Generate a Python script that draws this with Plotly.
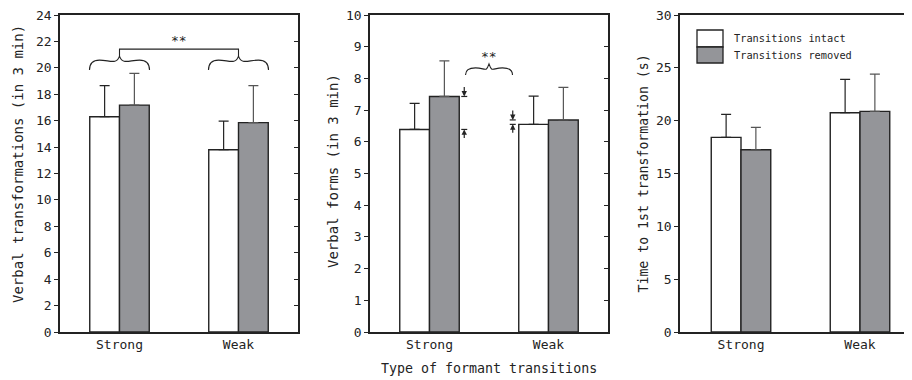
import plotly.graph_objects as go

# ---------------- data ----------------
categories = ["Strong", "Weak"]
series_names = ["Transitions intact", "Transitions removed"]

vt_intact = [16.3, 13.8]
vt_intact_err = [2.35, 2.17]
vt_removed = [17.18, 15.85]
vt_removed_err = [2.4, 2.8]

vf_intact = [6.39, 6.55]
vf_intact_err = [0.82, 0.89]
vf_removed = [7.43, 6.69]
vf_removed_err = [1.12, 1.03]

tt_intact = [18.42, 20.75]
tt_intact_err = [2.18, 3.15]
tt_removed = [17.25, 20.88]
tt_removed_err = [2.12, 3.53]

y_titles = ["Verbal transformations (in 3 min)", "Verbal forms (in 3 min)",
            "Time to 1st transformation (s)"]
y_max = [24, 10, 30]
y_dtick = [2, 1, 5]
x_title = "Type of formant transitions"
sig_text = "**"

# ---------------- layout constants ----------------
# The page body has an 8px margin, so the figure is drawn 8px smaller and
# all reference-pixel positions are shifted by that offset.
OFF = 8
PW, PH = 912, 380
W, H = PW - OFF, PH - OFF
FONT = "DejaVu Sans Mono"
INK = "#232323"
GREY = "#949599"


def FX(px):
    return (px - OFF) / W


def FY(py):
    return 1 - (py - OFF) / H


top_px, bot_px = 15, 332
ydom = [FY(bot_px), FY(top_px)]
xdoms_px = [(60, 298), (370, 608), (680, 912)]
xranges = [[-0.5, 1.5], [-0.5, 1.5], [-61 / 119, (912 - 741) / 119]]
PX_X = 119.0  # px per category unit

fig = go.Figure()
panels = [
    (vt_intact, vt_intact_err, vt_removed, vt_removed_err),
    (vf_intact, vf_intact_err, vf_removed, vf_removed_err),
    (tt_intact, tt_intact_err, tt_removed, tt_removed_err),
]

for i, (a, ae, b, be) in enumerate(panels):
    xa = "x" if i == 0 else f"x{i+1}"
    ya = "y" if i == 0 else f"y{i+1}"
    fig.add_trace(go.Bar(
        x=categories, y=a, name=series_names[0], xaxis=xa, yaxis=ya,
        marker=dict(color="white", line=dict(color=INK, width=1.4)),
        error_y=dict(type="data", array=ae, arrayminus=[0, 0], symmetric=False,
                     color=INK, thickness=1.2, width=5),
        showlegend=False))
    fig.add_trace(go.Bar(
        x=categories, y=b, name=series_names[1], xaxis=xa, yaxis=ya,
        marker=dict(color=GREY, line=dict(color=INK, width=1.4)),
        error_y=dict(type="data", array=be, arrayminus=[0, 0], symmetric=False,
                     color="#555555", thickness=1.2, width=5),
        showlegend=False))

layout = dict(
    template="none",
    width=W, height=H, margin=dict(l=0, r=0, t=0, b=0, autoexpand=False),
    paper_bgcolor="white", plot_bgcolor="white",
    barmode="group", bargap=0.5, bargroupgap=0,
    font=dict(family=FONT, size=13, color=INK),
    showlegend=False,
)

for i in range(3):
    sx = "" if i == 0 else str(i + 1)
    x0, x1 = xdoms_px[i]
    layout[f"xaxis{sx}"] = dict(
        domain=[FX(x0), min(FX(x1), 1.0)], range=xranges[i], anchor=f"y{sx}",
        showline=True, linecolor=INK, linewidth=1.5, mirror=True,
        ticks="", showgrid=False, zeroline=False, type="category", automargin=False,
        ticklabeloverflow="allow",
        tickfont=dict(size=13, family=FONT, color=INK),
    )
    layout[f"yaxis{sx}"] = dict(
        domain=ydom, range=[0, y_max[i]], anchor=f"x{sx}",
        showline=True, linecolor=INK, linewidth=1.5, mirror=(i < 2),
        ticks="outside", ticklen=4, tickwidth=1.2, tickcolor=INK,
        dtick=y_dtick[i], showgrid=False, zeroline=False, automargin=False,
        ticklabeloverflow="allow",
        tickfont=dict(size=13, family=FONT, color=INK),
    )

# right-side inside ticks for panels 1 and 2
for i, num in [(0, 4), (1, 5)]:
    sx = "" if i == 0 else str(i + 1)
    layout[f"yaxis{num}"] = dict(
        overlaying=f"y{sx}", side="right", anchor=f"x{sx}",
        range=[0, y_max[i]], dtick=y_dtick[i], ticks="inside", ticklen=4,
        tickwidth=1.2, tickcolor=INK, showticklabels=False, showline=False,
        showgrid=False, zeroline=False, automargin=False,
    )
    fig.add_trace(go.Scatter(x=[], y=[], xaxis=f"x{sx}", yaxis=f"y{num}",
                             showlegend=False))

fig.update_layout(**layout)

# x axis title (centered under panel 2)
fig.add_annotation(text=x_title, x=FX(489), y=FY(368), xref="paper", yref="paper",
                   showarrow=False, xanchor="center", yanchor="middle",
                   font=dict(size=13.3, family=FONT, color=INK))

# axis titles (y) as rotated annotations
ytitle_px = [(18, 164, 14), (333, 171, 14), (643, 173.5, 13.2)]
for t, (px, py, fs) in zip(y_titles, ytitle_px):
    fig.add_annotation(text=t, x=FX(px), y=FY(py), xref="paper", yref="paper",
                       showarrow=False, textangle=-90, xanchor="center", yanchor="middle",
                       font=dict(size=fs, family=FONT, color=INK))

# ---------------- significance braces ----------------
def brace_path(c, half_w_px, yb, ppy, hump_px, cusp_px):
    """Over-brace centered at c (category units), tips at yb (data units)."""
    def X(px):
        return c + px / PX_X
    def Y(px):
        return yb + px / ppy
    w = half_w_px
    p = []
    p.append(f"M {X(-w)},{Y(0)}")
    p.append(f"Q {X(-w)},{Y(hump_px)} {X(-w + 10)},{Y(hump_px)}")
    p.append(f"C {X(-w + 20)},{Y(hump_px)} {X(-3)},{Y(hump_px - 5)} {X(0)},{Y(cusp_px)}")
    p.append(f"C {X(3)},{Y(hump_px - 5)} {X(w - 20)},{Y(hump_px)} {X(w - 10)},{Y(hump_px)}")
    p.append(f"Q {X(w)},{Y(hump_px)} {X(w)},{Y(0)}")
    return " ".join(p)

# panel 1: braces over each group, joined by a bracket
ppy1 = (bot_px - top_px) / y_max[0]
brace_base1 = 19.83
cusp1 = brace_base1 + 14 / ppy1
bracket1 = brace_base1 + 21 / ppy1
for k in range(len(categories)):
    fig.add_shape(type="path", path=brace_path(k, 30, brace_base1, ppy1, 10, 14),
                  xref="x", yref="y", line=dict(color=INK, width=1.1))
fig.add_shape(type="path",
              path=f"M 0,{cusp1} L 0,{bracket1} L 1,{bracket1} L 1,{cusp1}",
              xref="x", yref="y", line=dict(color=INK, width=1.1))
fig.add_annotation(text=sig_text, x=0.5, y=bracket1 + 9 / ppy1, xref="x", yref="y",
                   showarrow=False, font=dict(size=13, family=FONT, color=INK))

# panel 2: single brace between groups plus difference arrows
ppy2 = (bot_px - top_px) / y_max[1]
brace_base2 = 8.11
fig.add_shape(type="path", path=brace_path(0.5, 23.5, brace_base2, ppy2, 7, 11),
              xref="x2", yref="y2", line=dict(color=INK, width=1.1))
fig.add_annotation(text=sig_text, x=0.5, y=brace_base2 + 18 / ppy2, xref="x2", yref="y2",
                   showarrow=False, font=dict(size=13, family=FONT, color=INK))

arrow_x = [0.25 + 5 / PX_X, 0.75 - 6 / PX_X]
for k in range(len(categories)):
    lo = min(vf_intact[k], vf_removed[k])
    hi = max(vf_intact[k], vf_removed[k])
    ax = arrow_x[k]
    for lev in (lo, hi):
        fig.add_shape(type="line", x0=ax - 3 / PX_X, x1=ax + 3 / PX_X, y0=lev, y1=lev,
                      xref="x2", yref="y2", line=dict(color=INK, width=1.2))
    fig.add_annotation(x=ax, y=hi, xref="x2", yref="y2", ax=0, ay=-11, text="",
                       showarrow=True, arrowhead=2, arrowsize=0.9, arrowwidth=1.2,
                       arrowcolor=INK, standoff=0)
    fig.add_annotation(x=ax, y=lo, xref="x2", yref="y2", ax=0, ay=10, text="",
                       showarrow=True, arrowhead=2, arrowsize=0.9, arrowwidth=1.2,
                       arrowcolor=INK, standoff=0)

# ---------------- legend (panel 3) ----------------
lx0, lx1 = 697, 723
ly = [30, 47, 63]
dx0, dx1 = xdoms_px[2][0], PW
def dxf(px):
    return (px - dx0) / (dx1 - dx0)
def dyf(px):
    return (bot_px - px) / (bot_px - top_px)
fills = ["white", GREY]
for k in range(2):
    fig.add_shape(type="rect", x0=dxf(lx0), x1=dxf(lx1), y0=dyf(ly[k + 1]), y1=dyf(ly[k]),
                  xref="x3 domain", yref="y3 domain", fillcolor=fills[k],
                  line=dict(color=INK, width=1.3))
    fig.add_annotation(text=series_names[k], x=dxf(732), y=dyf((ly[k] + ly[k + 1]) / 2),
                       xref="x3 domain", yref="y3 domain", showarrow=False,
                       xanchor="left", yanchor="middle",
                       font=dict(size=10.3, family=FONT, color=INK))

fig.write_html("out.html")
